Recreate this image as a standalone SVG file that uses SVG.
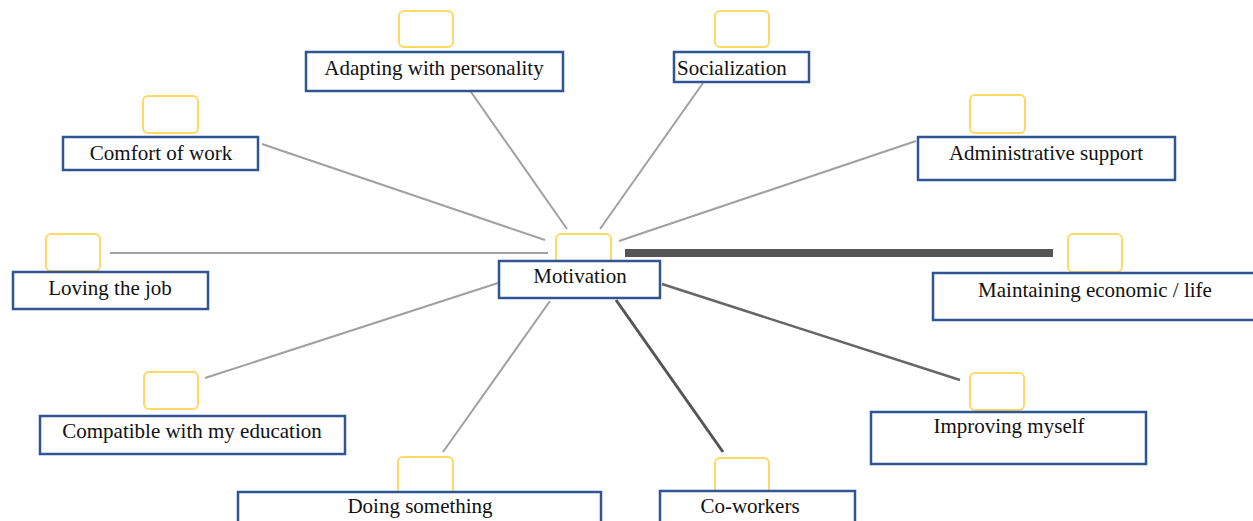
<svg xmlns="http://www.w3.org/2000/svg" width="1253" height="521" viewBox="0 0 1253 521">
<style>
.y{fill:#fff;stroke:#ffd966;stroke-width:2;}
.b{fill:#fff;stroke:#2f5597;stroke-width:2.5;}
.t{font-family:"Liberation Serif","Times New Roman",serif;font-size:21px;fill:#111;text-anchor:middle;}
.c{stroke:#a0a0a0;stroke-width:2;fill:none;}
</style>
<rect width="1253" height="521" fill="#fff"/>
<g id="connectors">
<line class="c" x1="471" y1="92" x2="567" y2="229"/>
<line class="c" x1="703" y1="83" x2="600" y2="229"/>
<line class="c" x1="262" y1="144" x2="545" y2="240"/>
<line class="c" x1="916" y1="141" x2="619" y2="241"/>
<line class="c" x1="110" y1="253" x2="548" y2="253"/>
<line class="c" x1="205" y1="378" x2="498" y2="283"/>
<line class="c" x1="443" y1="452" x2="550" y2="301"/>
<line x1="616" y1="300" x2="723" y2="452" stroke="#555" stroke-width="3"/>
<line x1="662" y1="284" x2="960" y2="380" stroke="#666" stroke-width="2.5"/>
<line x1="625" y1="253" x2="1053" y2="253" stroke="#555" stroke-width="8"/>
</g>
<g id="motivation">
<rect class="y" x="556" y="234" width="55" height="40" rx="5"/>
<rect class="b" x="499" y="261" width="161" height="37"/>
<text class="t" x="580" y="283">Motivation</text>
</g>
<g id="adapting">
<rect class="y" x="399" y="11" width="54" height="36" rx="5"/>
<rect class="b" x="306" y="52" width="257" height="39"/>
<text class="t" x="434" y="75">Adapting with personality</text>
</g>
<g id="socialization">
<rect class="y" x="715" y="11" width="54" height="36" rx="5"/>
<rect class="b" x="674" y="52" width="135" height="30"/>
<text class="t" x="677" y="75" style="text-anchor:start">Socialization</text>
</g>
<g id="comfort">
<rect class="y" x="143" y="96" width="55" height="37" rx="5"/>
<rect class="b" x="63" y="137" width="195" height="33"/>
<text class="t" x="161" y="160">Comfort of work</text>
</g>
<g id="administrative">
<rect class="y" x="970" y="95" width="55" height="38" rx="5"/>
<rect class="b" x="918" y="137" width="257" height="43"/>
<text class="t" x="1046" y="160">Administrative support</text>
</g>
<g id="loving">
<rect class="y" x="46" y="234" width="54" height="37" rx="5"/>
<rect class="b" x="13" y="272" width="195" height="37"/>
<text class="t" x="110" y="295">Loving the job</text>
</g>
<g id="maintaining">
<rect class="y" x="1068" y="234" width="54" height="38" rx="5"/>
<rect class="b" x="933" y="273" width="322" height="47"/>
<text class="t" x="1095" y="297">Maintaining economic / life</text>
</g>
<g id="compatible">
<rect class="y" x="144" y="372" width="54" height="37" rx="5"/>
<rect class="b" x="40" y="416" width="305" height="38"/>
<text class="t" x="192" y="438">Compatible with my education</text>
</g>
<g id="improving">
<rect class="y" x="970" y="373" width="54" height="37" rx="5"/>
<rect class="b" x="871" y="412" width="275" height="52"/>
<text class="t" x="1009" y="433">Improving myself</text>
</g>
<g id="doing">
<rect class="y" x="398" y="457" width="55" height="40" rx="5"/>
<rect class="b" x="238" y="492" width="363" height="35"/>
<text class="t" x="420" y="513">Doing something</text>
</g>
<g id="coworkers">
<rect class="y" x="715" y="458" width="54" height="40" rx="5"/>
<rect class="b" x="660" y="491" width="195" height="36"/>
<text class="t" x="750" y="513">Co-workers</text>
</g>
</svg>
